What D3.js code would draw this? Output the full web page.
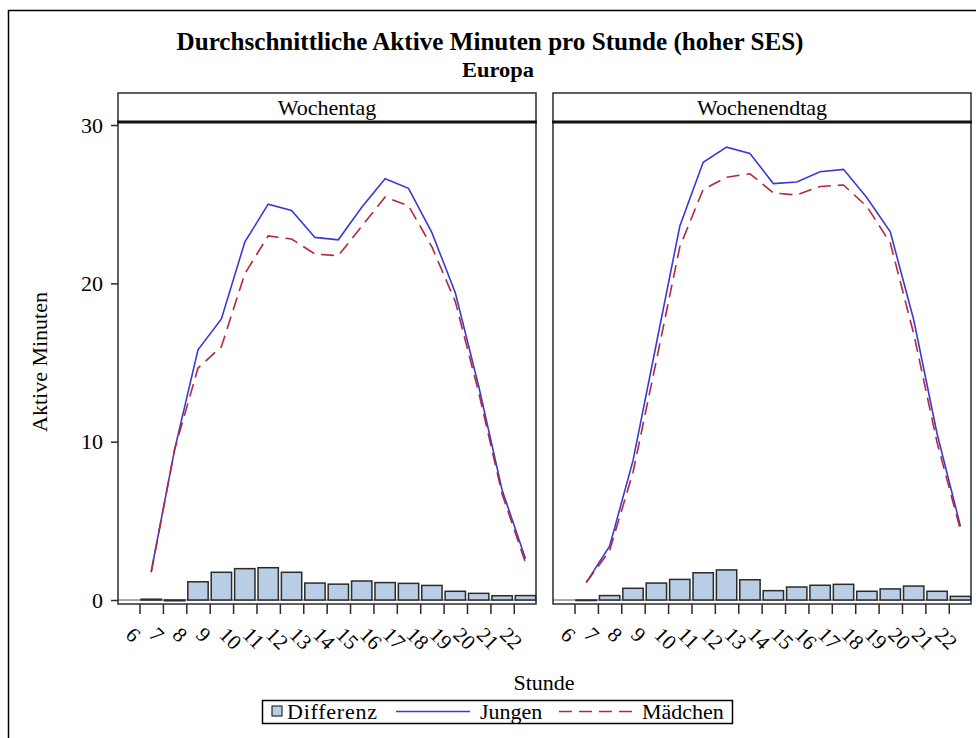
<!DOCTYPE html>
<html>
<head>
<meta charset="utf-8">
<script src="https://cdn.jsdelivr.net/npm/d3@7/dist/d3.min.js"></script>
<style>
  html, body { margin: 0; padding: 0; background: #fff; }
  svg text { font-family: "Liberation Serif", "DejaVu Serif", serif; fill: #000; }
</style>
</head>
<body>
<svg id="chart" width="976" height="738"></svg>
<script>
// ---------- data ----------
const hours = [6,7,8,9,10,11,12,13,14,15,16,17,18,19,20,21,22];
const tickLabels = ["6","7","8","9","10","11","12","13","14","15","16","17","18","19","20","21","22"];
const panelTitles = ["Wochentag", "Wochenendtag"];

const jungenWochentag   = [1.8, 9.5, 15.8, 17.75, 22.6, 25.0, 24.6, 22.9, 22.75, 24.8, 26.6, 26.0, 23.2, 19.4, 13.5, 6.95, 2.6];
const maedchenWochentag = [1.75, 9.5, 14.65, 16.0, 20.6, 23.0, 22.8, 21.85, 21.75, 23.6, 25.45, 24.9, 22.3, 18.85, 13.1, 6.7, 2.35];
const differenzWochentag = [0.05, -0.05, 1.15, 1.75, 1.98, 2.04, 1.75, 1.07, 1.0, 1.2, 1.1, 1.05, 0.92, 0.55, 0.42, 0.27, 0.28];

const jungenWochenend   = [1.1, 3.4, 8.8, 16.2, 23.6, 27.65, 28.6, 28.2, 26.3, 26.4, 27.05, 27.2, 25.4, 23.25, 17.7, 10.5, 4.65];
const maedchenWochenend = [1.1, 3.12, 8.06, 15.13, 22.3, 25.93, 26.7, 26.92, 25.71, 25.58, 26.12, 26.21, 24.85, 22.55, 16.82, 9.95, 4.42];
const differenzWochenend = [-0.03, 0.28, 0.74, 1.07, 1.3, 1.72, 1.9, 1.28, 0.59, 0.82, 0.93, 0.99, 0.55, 0.7, 0.88, 0.55, 0.23];

const yTicks = [0, 10, 20, 30];

const seriesNames = ["Differenz", "Jungen", "Mädchen"];

// ---------- style / layout ----------
const colBlue = "#3a3ad4";
const colRed = "#b5283c";
const colBar = "#b9cde5";
const colEdge = "#2b2b2b";

const svg = d3.select("#chart");

// outer border
svg.append("rect").attr("x", 8.5).attr("y", 10.5).attr("width", 1000).attr("height", 1000)
  .attr("fill", "none").attr("stroke", "#000").attr("stroke-width", 1.5);

// titles
svg.append("text").attr("x", 490).attr("y", 50).attr("text-anchor", "middle")
  .attr("font-size", 25).attr("font-weight", "bold")
  .attr("textLength", 627).attr("lengthAdjust", "spacingAndGlyphs")
  .text("Durchschnittliche Aktive Minuten pro Stunde (hoher SES)");
svg.append("text").attr("x", 498).attr("y", 77).attr("text-anchor", "middle")
  .attr("font-size", 20).attr("font-weight", "bold")
  .attr("textLength", 72).attr("lengthAdjust", "spacingAndGlyphs")
  .text("Europa");

const headerTop = 93, plotTop = 122, plotBottom = 604;
const panels = [
  { x0: 118, x1: 536, title: panelTitles[0], j: jungenWochentag, m: maedchenWochentag, d: differenzWochentag },
  { x0: 553, x1: 971, title: panelTitles[1], j: jungenWochenend, m: maedchenWochenend, d: differenzWochenend }
];

const y = d3.scaleLinear().domain([0, 30]).range([600, 125]);

panels.forEach((p, pi) => {
  const x = d3.scaleLinear().domain([5.08, 22.95]).range([p.x0, p.x1]);
  const step = x(7) - x(6);
  const bw = step * 0.87;
  const g = svg.append("g");

  // header strip
  g.append("rect").attr("x", p.x0).attr("y", headerTop).attr("width", p.x1 - p.x0).attr("height", plotTop - headerTop)
    .attr("fill", "#fff").attr("stroke", colEdge).attr("stroke-width", 1.5);
  g.append("text").attr("x", (p.x0 + p.x1) / 2).attr("y", 115).attr("text-anchor", "middle")
    .attr("font-size", 22).text(p.title);

  // zero line
  g.append("line").attr("x1", p.x0).attr("x2", p.x1).attr("y1", y(0)).attr("y2", y(0))
    .attr("stroke", "#555").attr("stroke-width", 1);

  // bars
  g.selectAll("rect.bar").data(hours).enter().append("rect").attr("class", "bar")
    .attr("x", (h) => x(h + 0.5) - bw / 2)
    .attr("width", bw)
    .attr("y", (h, i) => Math.min(y(p.d[i]), y(0)))
    .attr("height", (h, i) => Math.max(Math.abs(y(p.d[i]) - y(0)), 0.5))
    .attr("fill", colBar).attr("stroke", colEdge).attr("stroke-width", 1.5);

  // lines
  const line = (vals) => d3.line().x((h) => x(h + 0.5)).y((h, i) => y(vals[i]))(hours);
  g.append("path").attr("d", line(p.j)).attr("fill", "none").attr("stroke", colBlue).attr("stroke-width", 1.6);
  g.append("path").attr("d", line(p.m)).attr("fill", "none").attr("stroke", colRed).attr("stroke-width", 1.6)
    .attr("stroke-dasharray", "13,7");

  // panel frame
  g.append("rect").attr("x", p.x0).attr("y", plotTop).attr("width", p.x1 - p.x0).attr("height", plotBottom - plotTop)
    .attr("fill", "none").attr("stroke", colEdge).attr("stroke-width", 1.5);
  g.append("line").attr("x1", p.x0 - 0.75).attr("x2", p.x1 + 0.75).attr("y1", plotTop).attr("y2", plotTop)
    .attr("stroke", "#111").attr("stroke-width", 3);

  // x axis
  const xa = g.append("g").attr("transform", `translate(0,${plotBottom})`);
  xa.call(d3.axisBottom(x).tickValues(hours).tickSize(10).tickFormat(""));
  xa.select(".domain").remove();
  xa.selectAll(".tick line").attr("stroke", colEdge).attr("stroke-width", 1.5);
  g.selectAll("text.xl").data(hours).enter().append("text").attr("class", "xl")
    .attr("font-size", 21)
    .attr("transform", (h) => `translate(${x(h) - 15},636) rotate(45)`)
    .text((h, i) => tickLabels[i]);

  // y axis (left panel only)
  if (pi === 0) {
    const ya = g.append("g").attr("transform", `translate(${p.x0},0)`);
    ya.call(d3.axisLeft(y).tickValues(yTicks).tickSize(7).tickPadding(8).tickFormat(d3.format("d")));
    ya.select(".domain").remove();
    ya.selectAll(".tick line").attr("stroke", colEdge).attr("stroke-width", 1.5);
    ya.selectAll(".tick text").attr("font-size", 22).attr("font-family", "Liberation Serif, serif").attr("fill", "#000");
  }
});

// axis titles
svg.append("text").attr("transform", "translate(47,362) rotate(-90)").attr("text-anchor", "middle")
  .attr("font-size", 22).text("Aktive Minuten");
svg.append("text").attr("x", 544).attr("y", 690).attr("text-anchor", "middle")
  .attr("font-size", 22).text("Stunde");

// legend
const lg = svg.append("g");
lg.append("rect").attr("x", 262.5).attr("y", 700.5).attr("width", 470).attr("height", 23)
  .attr("fill", "#fff").attr("stroke", "#000").attr("stroke-width", 1.5);
lg.append("rect").attr("x", 272).attr("y", 706).attr("width", 10).attr("height", 10)
  .attr("fill", colBar).attr("stroke", colEdge).attr("stroke-width", 1.2);
lg.append("text").attr("x", 287).attr("y", 719).attr("font-size", 22)
  .attr("textLength", 90).attr("lengthAdjust", "spacing").text(seriesNames[0]);
lg.append("line").attr("x1", 396).attr("x2", 470).attr("y1", 711.5).attr("y2", 711.5)
  .attr("stroke", colBlue).attr("stroke-width", 1.6);
lg.append("text").attr("x", 480).attr("y", 719).attr("font-size", 22).text(seriesNames[1]);
lg.append("line").attr("x1", 559).attr("x2", 632).attr("y1", 711.5).attr("y2", 711.5)
  .attr("stroke", colRed).attr("stroke-width", 1.6).attr("stroke-dasharray", "13,7");
lg.append("text").attr("x", 642).attr("y", 719).attr("font-size", 22).text(seriesNames[2]);
</script>
</body>
</html>
